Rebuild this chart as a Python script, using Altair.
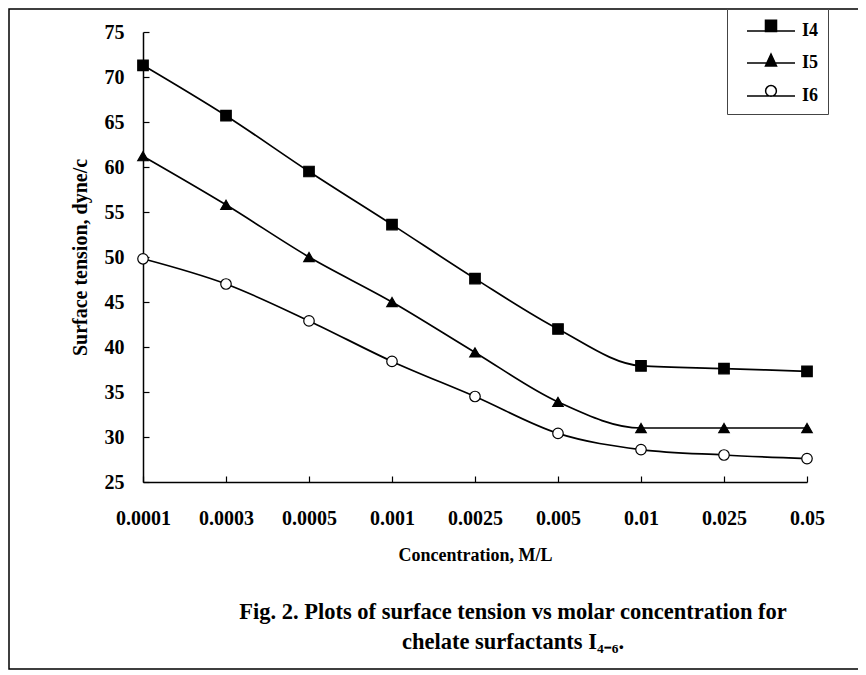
import altair as alt
import pandas as pd

# ---- data ----
concentrations = ["0.0001", "0.0003", "0.0005", "0.001", "0.0025",
                  "0.005", "0.01", "0.025", "0.05"]
series = ["I4", "I5", "I6"]
i4 = [71.3, 65.7, 59.5, 53.6, 47.6, 42.0, 37.9, 37.6, 37.3]
i5 = [61.2, 55.8, 50.0, 45.0, 39.4, 33.9, 31.0, 31.0, 31.0]
i6 = [49.8, 47.0, 42.9, 38.4, 34.5, 30.4, 28.6, 28.0, 27.6]
y_ticks = [25, 30, 35, 40, 45, 50, 55, 60, 65, 70, 75]

marker_shapes = ["square", "triangle-up", "circle"]
marker_fills = ["black", "black", "white"]
marker_strokes = ["black", "black", "black"]
# legend symbols: a line segment with the marker sitting on it
legend_paths = [
    "M-2,0L2,0M-0.46,-0.9L0.46,-0.9L0.46,0.05L-0.46,0.05Z",
    "M-2,0L2,0M0,-0.75L0.46,0.25L-0.46,0.25Z",
    "M-2,0L2,0M0.45,-0.42A0.45,0.45 0 1 1 -0.45,-0.42A0.45,0.45 0 1 1 0.45,-0.42Z",
]

caption = ["Fig. 2. Plots of surface tension vs molar concentration for",
           "chelate surfactants I\u2084\u208b\u2086."]

rows = []
for name, vals in zip(series, [i4, i5, i6]):
    for c, v in zip(concentrations, vals):
        rows.append({"conc": c, "value": v, "series": name})
df = pd.DataFrame(rows)

# ---- layout ----
FONT = "Liberation Serif"
W, H = 664, 450
SVG_W, SVG_H = 850, 663
PAD_L, PAD_T = 135, 24

x_enc = alt.X(
    "conc:N", sort=concentrations,
    scale=alt.Scale(type="point", padding=0),
    axis=alt.Axis(title="Concentration, M/L", labelAngle=0,
                  tickSize=alt.ExprRef(expr="-6"), labelPadding=32,
                  titlePadding=18, labelFontSize=20, titleFontSize=18),
)
y_enc = alt.Y(
    "value:Q",
    scale=alt.Scale(domain=[25, 75], nice=False, zero=False),
    axis=alt.Axis(values=y_ticks, title="Surface tension, dyne/c",
                  tickSize=alt.ExprRef(expr="-6"), labelPadding=25,
                  titlePadding=14, labelFontSize=20, titleFontSize=20),
)

lines = alt.Chart(df).mark_line(
    interpolate="monotone", color="black", strokeWidth=1.7
).encode(x=x_enc, y=y_enc, detail="series:N")

points = alt.Chart(df).mark_point(
    size=110, stroke="black", strokeWidth=1.2, opacity=1
).encode(
    x=x_enc, y=y_enc,
    shape=alt.Shape("series:N", scale=alt.Scale(domain=series, range=marker_shapes), legend=None),
    fill=alt.Fill("series:N", scale=alt.Scale(domain=series, range=marker_fills), legend=None),
)

legend_layer = alt.Chart(df).transform_filter("false").mark_point(
    strokeWidth=1.5, opacity=1
).encode(
    x=x_enc, y=y_enc,
    shape=alt.Shape("series:N", scale=alt.Scale(domain=series, range=legend_paths),
                    legend=alt.Legend(title=None)),
    fill=alt.Fill("series:N", scale=alt.Scale(domain=series, range=marker_fills),
                  legend=alt.Legend(title=None)),
    stroke=alt.Stroke("series:N", scale=alt.Scale(domain=series, range=marker_strokes),
                      legend=alt.Legend(title=None)),
)

# outer figure frame (its right side lies beyond the picture's edge)
one = alt.Data(values=[{}])
bottom_y = SVG_H - PAD_T - 2
frame = alt.Chart(one).mark_rect(
    fillOpacity=0, stroke="black", strokeWidth=1.5
).encode(
    x=alt.value(-PAD_L + 1), x2=alt.value(SVG_W + 200),
    y=alt.value(-PAD_T + 1), y2=alt.value(bottom_y),
)

caption_text = alt.Chart(one).mark_text(
    align="center", baseline="middle", font=FONT, fontSize=22.5,
    fontWeight="bold", lineHeight=30, color="black"
).encode(
    x=alt.value(513 - 143), y=alt.value(612 - 32), text=alt.value(caption)
)

chart = alt.layer(
    frame, lines, points, legend_layer, caption_text
).resolve_scale(
    shape="independent", fill="independent", stroke="independent"
).properties(
    width=W, height=H,
    autosize=alt.AutoSizeParams(type="none"),
    padding={"left": PAD_L, "top": PAD_T, "right": SVG_W - PAD_L - W,
             "bottom": SVG_H - PAD_T - H},
).configure_view(
    stroke=None
).configure_axis(
    grid=False, domainColor="black", domainWidth=1.5, tickColor="black",
    tickWidth=1.2, labelFont=FONT, labelFontWeight="bold", labelColor="black",
    titleFont=FONT, titleFontWeight="bold", titleColor="black",
).configure_legend(
    orient="none", legendX=584, legendY=-PAD_T + 1, padding=9,
    symbolOffset=22, symbolSize=576, rowPadding=10, labelOffset=18,
    labelFont=FONT, labelFontSize=18, labelFontWeight="bold",
    labelColor="black", strokeColor="#444", fillColor="white",
    symbolStrokeWidth=1.5,
)

chart.save("out.html", embed_options={"renderer": "svg", "actions": False})
